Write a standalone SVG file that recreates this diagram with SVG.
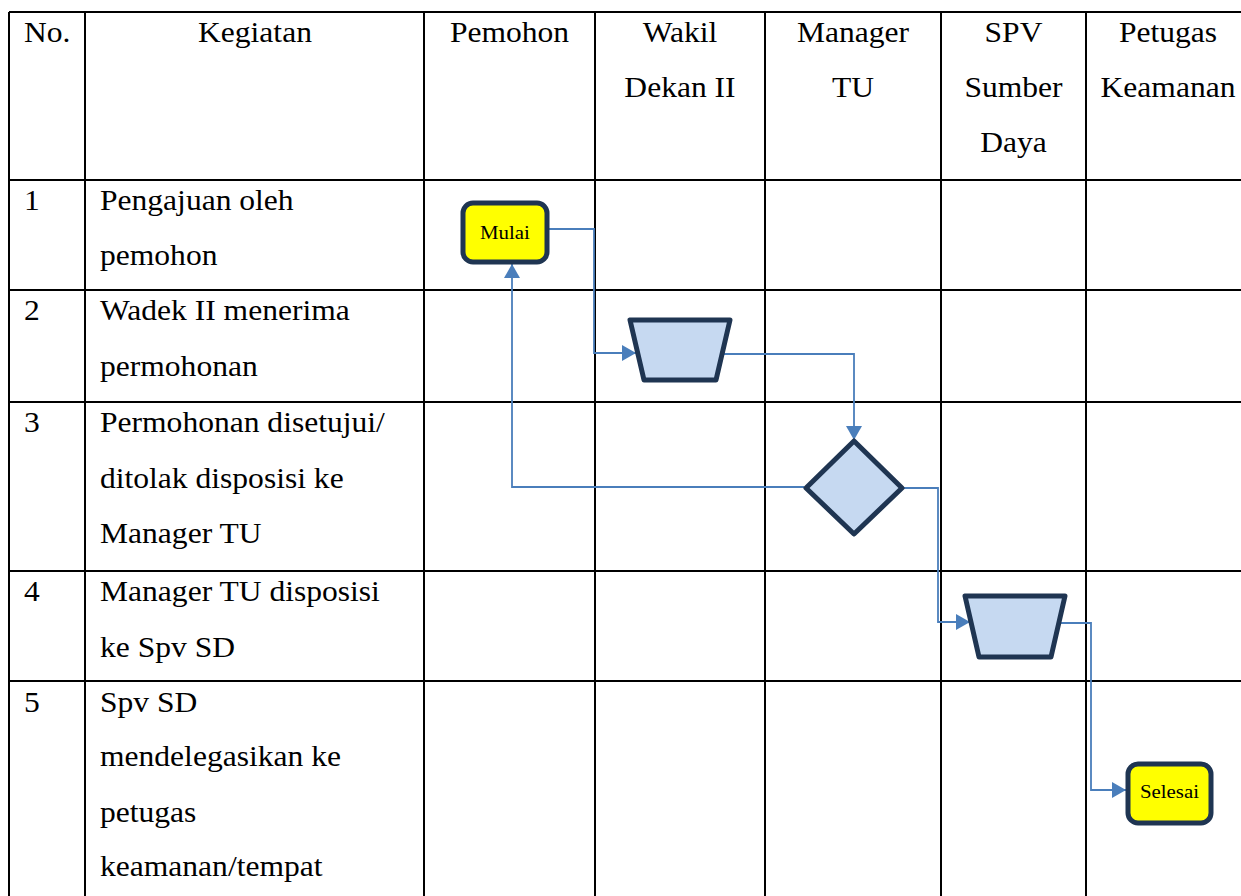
<svg xmlns="http://www.w3.org/2000/svg" width="1241" height="896" viewBox="0 0 1241 896">
<style>
.grid{stroke:#000;stroke-width:2;fill:none}
.t{font-size:29.5px;fill:#000}
.c{text-anchor:middle}
.conn{fill:none;stroke:#4A7EBB;stroke-width:1.8}
.shape{stroke:#1F3552;stroke-width:5;stroke-linejoin:round}
.term{fill:#FFFF00}
.proc{fill:#C6D9F1}
.lbl{font-size:19.5px;fill:#000;text-anchor:middle}
</style>
<defs>
<marker id="arr" markerUnits="userSpaceOnUse" markerWidth="15" markerHeight="16" refX="14" refY="8" orient="auto" viewBox="0 0 15 16">
<path d="M0,0 L14,8 L0,16 z" fill="#4A7EBB"/>
</marker>
</defs>
<rect width="1241" height="896" fill="#fff"/>
<g id="table" font-family="'Liberation Serif', Tinos, 'Times New Roman', Times, serif">
<path class="grid" d="M9,12 H1250 M9,180 H1250 M9,290 H1250 M9,402 H1250 M9,571 H1250 M9,681 H1250 M9,12 V900 M85,12 V900 M424,12 V900 M595,12 V900 M765,12 V900 M941,12 V900 M1086,12 V900"/>
<g transform="scale(1.07 1)">
<text class="t" x="22.4" y="42">No.</text>
<text class="t c" x="238.3" y="42">Kegiatan</text>
<text class="t c" x="476.2" y="42">Pemohon</text>
<text class="t c" x="635.5" y="42">Wakil</text>
<text class="t c" x="635.5" y="97">Dekan II</text>
<text class="t c" x="797.2" y="42">Manager</text>
<text class="t c" x="797.2" y="97">TU</text>
<text class="t c" x="947.2" y="42">SPV</text>
<text class="t c" x="947.2" y="97">Sumber</text>
<text class="t c" x="947.2" y="152">Daya</text>
<text class="t c" x="1091.6" y="42">Petugas</text>
<text class="t c" x="1091.6" y="97">Keamanan</text>
<text class="t" x="22.4" y="210">1</text>
<text class="t" x="93.5" y="210">Pengajuan oleh</text>
<text class="t" x="93.5" y="265">pemohon</text>
<text class="t" x="22.4" y="320">2</text>
<text class="t" x="93.5" y="320">Wadek II menerima</text>
<text class="t" x="93.5" y="376">permohonan</text>
<text class="t" x="22.4" y="432">3</text>
<text class="t" x="93.5" y="432">Permohonan disetujui/</text>
<text class="t" x="93.5" y="488">ditolak disposisi ke</text>
<text class="t" x="93.5" y="543">Manager TU</text>
<text class="t" x="22.4" y="601">4</text>
<text class="t" x="93.5" y="601">Manager TU disposisi</text>
<text class="t" x="93.5" y="657">ke Spv SD</text>
<text class="t" x="22.4" y="712">5</text>
<text class="t" x="93.5" y="712">Spv SD</text>
<text class="t" x="93.5" y="766">mendelegasikan ke</text>
<text class="t" x="93.5" y="822">petugas</text>
<text class="t" x="93.5" y="876">keamanan/tempat</text>
</g>
</g>
<g id="connectors">
<path class="conn" d="M549,229 H594 V353 H636" marker-end="url(#arr)"/>
<path class="conn" d="M722,354 H854 V440" marker-end="url(#arr)"/>
<path class="conn" d="M804,487 H512 V264" marker-end="url(#arr)"/>
<path class="conn" d="M903,488 H938 V622 H970" marker-end="url(#arr)"/>
<path class="conn" d="M1060,623 H1091 V790 H1126" marker-end="url(#arr)"/>
</g>
<g id="mulai" font-family="'Liberation Serif', Tinos, 'Times New Roman', Times, serif">
<rect class="shape term" x="463" y="203" width="84" height="59" rx="10"/>
<text class="lbl" x="505" y="239" transform="translate(505 0) scale(1.07 1) translate(-505 0)">Mulai</text>
</g>
<g id="wadek">
<polygon class="shape proc" points="630,320 730,320 716,380 644,380"/>
</g>
<g id="keputusan">
<polygon class="shape proc" points="854,441 902,488 854,534 806,488"/>
</g>
<g id="spv">
<polygon class="shape proc" points="965,596 1065,596 1051,657 979,657"/>
</g>
<g id="selesai" font-family="'Liberation Serif', Tinos, 'Times New Roman', Times, serif">
<rect class="shape term" x="1128" y="764" width="83" height="59" rx="10"/>
<text class="lbl" x="1169.5" y="798" transform="translate(1169.5 0) scale(1.07 1) translate(-1169.5 0)">Selesai</text>
</g>
</svg>
